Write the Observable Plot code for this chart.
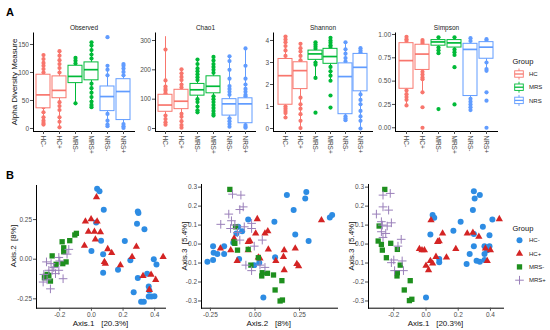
<!DOCTYPE html>
<html><head><meta charset="utf-8">
<script src="https://cdn.jsdelivr.net/npm/d3@7"></script>
<script src="https://cdn.jsdelivr.net/npm/@observablehq/plot@0.6"></script>
<style>
html,body{margin:0;padding:0;background:#fff;}
#root{position:relative;width:550px;height:330px;overflow:hidden;font-family:"Liberation Sans",Arial,Helvetica,sans-serif;background:#fff;}
#root svg{position:absolute;overflow:visible;}
</style></head><body><div id="root"></div>
<script>
// ---------- Panel A data ----------
const cats = ["HC-","HC+","MRS-","MRS+","NRS-","NRS+"];
const catGroup = ["HC","HC","MRS","MRS","NRS","NRS"];
const groups = ["HC","MRS","NRS"];
const groupColors = ["#F8766D","#00BA38","#619CFF"];
const facetNames = ["Observed","Chao1","Shannon","Simpson"];
const yAxisTitleA = "Alpha Diversity Measure";

// [lower whisker, q1, median, q3, upper whisker] per category
const observedBox = [[8,36,60,96,131],[2,54,68,93,138],[45,81,93,112,126],[38,86,105,118,154],[5,31,57,75,112],[1,15,66,88,115]];
const observedPts = [
  [131,124,117,112,106,100,50,38,29,20,14,10,7],
  [138,130,122,115,108,100,47,40,33,20,12,2],
  [126,121,116,45],
  [154,148,140,132,125,80,72,64,56,48,42,38],
  [163,112,105,95,26,14,7,4],
  [115,112,107,101,95,8,4,1]];
const chao1Box = [[13,57,80,115,313],[3,66,93,132,202],[55,112,132,152,235],[44,120,144,178,244],[6,44,84,100,246],[3,18,84,103,273]];
const chao1Pts = [
  [269,164,143,135,129,120,44,32,21,13],
  [202,188,176,165,150,140,50,40,25,12,3],
  [235,220,205,195,185,175,165,100,90,75,62,55],
  [244,232,220,210,200,190,110,100,90,80,70,60,50,44],
  [246,230,200,170,145,135,125,115,35,25,15,6],
  [273,214,170,150,135,125,115,110,12,6,3]];
const shannonBox = [[0.5,1.08,2.40,3.16,4.18],[0,1.79,2.63,3.01,3.85],[2.3,3.12,3.39,3.54,3.92],[2.17,2.94,3.27,3.62,4.12],[0.38,0.65,2.36,2.96,3.92],[0,1.69,2.78,3.39,3.65]];
const shannonPts = [
  [4.18,4.05,3.92,3.75,3.55,3.3,1.0,0.9,0.8,0.7,0.5],
  [3.85,3.65,3.5,3.3,3.1,1.4,1.1,0.9,0.65,0.35,0.02],
  [3.92,3.82,3.72,3.62,3.0,2.9,2.3,0.72],
  [4.12,4.0,3.9,3.78,3.7,2.8,2.6,2.4,2.17,1.5,0.95],
  [3.92,3.6,3.4,3.2,3.05,0.55,0.45,0.38],
  [3.65,3.55,3.45,1.55,1.3,1.1,0.8,0.55,0.35,0]];
const simpsonBox = [[0.24,0.418,0.72,0.907,0.975],[0.38,0.62,0.79,0.89,0.94],[0.79,0.88,0.92,0.94,0.97],[0.78,0.86,0.91,0.94,0.97],[0.19,0.34,0.84,0.90,0.96],[0.61,0.74,0.864,0.918,0.95]];
const simpsonPts = [
  [0.975,0.95,0.93,0.4,0.36,0.33,0.3,0.24],
  [0.94,0.92,0.9,0.6,0.57,0.54,0.52,0.38,0.22,0],
  [0.97,0.86,0.83,0.8,0.2],
  [0.97,0.84,0.81,0.78,0.65,0.25],
  [0.96,0.93,0.31,0.28,0.25,0.22,0.19],
  [0.95,0.93,0.70,0.63,0.61,0.38,0.29,0]];
const observedTicks = [0,50,100,150];
const chao1Ticks = [0,100,200,300];
const shannonTicks = [0,1,2,3,4];
const simpsonTicks = [0,0.25,0.5,0.75,1];

// ---------- Panel B data ----------
const sampleGroups = ["HC-","HC+","MRS-","MRS+"];
const sampleColors = ["#2D8CE3","#D42424","#1E8F1E","#9A80BA"];
const sampleSymbols = ["circle","triangle","square","plus"];
const axisTitlesB = [["Axis.1\u00a0\u00a0\u00a0[20.3%]","Axis.2\u00a0\u00a0[8%]"],["Axis.2\u00a0\u00a0\u00a0[8%]","Axis.3\u00a0\u00a0[5.4%]"],["Axis.1\u00a0\u00a0\u00a0[20.3%]","Axis.3\u00a0\u00a0[5.4%]"]];

// Axis.1 vs Axis.2
const hcMinus12 = [[0.036,0.444],[0.051,0.429],[0.078,0.312],[0.293,0.301],[0.297,0.291],[0.288,0.223],[0.335,0.189],[0.061,0.117],[0.211,0.115],[0,0.051],[0.074,0.032],[0.246,-0.006],[0.394,0],[0.411,-0.034],[0.074,-0.085],[0.168,-0.066],[0.293,-0.119],[0.352,-0.091],[0.362,-0.172],[0.366,-0.197],[0.267,-0.208],[0.314,-0.268],[0.331,-0.268],[0.362,-0.236],[0.379,-0.236],[0.398,-0.234],[0.03,0.232]];
const hcPlus12 = [[0.032,0.391],[-0.038,0.238],[-0.002,0.253],[0.036,0.238],[-0.019,0.174],[0.019,0.174],[0.057,0.17],[0.025,0.125],[-0.044,0.085],[0.103,0.064],[0.128,0.04],[0.082,-0.017],[0.088,-0.028],[0.183,-0.038],[0.284,0.079],[0.257,0.015],[0.453,0.015],[0.326,-0.106],[0.377,-0.098],[0.406,-0.13],[0.366,-0.193]];
const mrsMinus12 = [[-0.095,0.163],[-0.105,0.153],[-0.137,0.117],[-0.185,0.11],[-0.175,0.072],[-0.175,0.047],[-0.248,0.021],[-0.16,-0.017],[-0.181,-0.028],[-0.223,-0.032],[-0.269,-0.102],[-0.291,-0.108],[-0.297,-0.117],[-0.259,-0.138],[-0.28,-0.096]];
const mrsPlus12 = [[-0.143,0.062],[-0.154,0.032],[-0.206,0.011],[-0.2,-0.011],[-0.284,-0.017],[-0.238,-0.053],[-0.269,-0.07],[-0.248,-0.07],[-0.206,-0.07],[-0.301,-0.096],[-0.179,-0.123],[-0.28,-0.13],[-0.305,-0.144],[-0.259,-0.187],[-0.227,-0.091],[-0.255,-0.028]];
// Axis.2 vs Axis.3
const hcMinus23 = [[0.179,0.258],[0.288,0.275],[0.282,0.24],[0.217,0.179],[0.433,0.153],[0.42,0.14],[0.109,0.118],[-0.038,0.13],[-0.072,0.068],[0.226,0.051],[0.301,0.016],[-0.235,-0.011],[-0.173,-0.011],[-0.232,-0.046],[-0.211,-0.053],[-0.173,-0.053],[-0.267,-0.093],[-0.235,-0.084],[-0.089,-0.079],[-0.122,0.007],[0.113,-0.07],[0.024,-0.098],[-0.004,-0.111],[0.047,-0.281],[-0.094,0.091],[-0.104,0.056]];
const hcPlus23 = [[0.373,0.126],[0.013,0.132],[0.004,0.056],[0.072,0.068],[0.056,0.056],[-0.028,0.016],[-0.038,0.012],[-0.117,0.03],[-0.194,-0.023],[-0.136,-0.032],[0.075,-0.028],[-0.038,-0.032],[0.028,-0.075],[-0.1,-0.089],[0.164,-0.032],[0.16,-0.067],[0.164,-0.137],[0.226,-0.023],[0.235,-0.105],[0.245,-0.116],[0.117,-0.089],[0.019,-0.07]];
const mrsMinus23 = [[-0.141,0.288],[-0.109,0.091],[-0.117,0.012],[-0.113,0.004],[-0.098,-0.032],[-0.038,-0.028],[-0.023,-0.111],[0.019,-0.072],[0.041,-0.151],[0.038,-0.168],[0.07,-0.154],[0.104,-0.163],[0.151,-0.193],[0.113,-0.242],[0.141,-0.3],[0.154,-0.295]];
const mrsPlus23 = [[-0.126,0.263],[-0.079,0.258],[-0.066,0.196],[-0.085,0.182],[-0.147,0.158],[-0.192,0.104],[-0.132,0.123],[-0.113,0.1],[-0.137,0.082],[-0.098,0.061],[-0.06,0.091],[-0.085,0.021],[-0.019,0.109],[-0.019,0.082],[0.041,0.021],[-0.004,-0.011],[-0.051,-0.111],[-0.019,-0.14],[0.056,-0.123],[0.028,-0.111]];
// Axis.1 vs Axis.3
const hcMinus13 = [[0.297,0.279],[0.334,0.258],[0.302,0.24],[0.291,0.179],[0.041,0.153],[0.051,0.139],[0.412,0.13],[0.215,0.118],[0.17,0.07],[0.353,0.091],[0.027,0.051],[0.297,0.053],[0.394,0.046],[0.297,-0.011],[0.363,-0.011],[0.394,-0.011],[0.271,-0.053],[0.314,-0.088],[0.334,-0.093],[0.363,-0.084],[0.363,-0.053],[0.252,-0.105],[0.082,-0.079],[0.082,-0.096],[0,-0.281],[0.38,-0.032]];
const hcPlus13 = [[0.455,0.132],[0.031,0.126],[0.103,0.056],[0.082,0.016],[0.072,0.012],[0.291,0.06],[0.256,0.056],[0.328,0.039],[0.185,-0.026],[-0.041,-0.026],[-0.025,-0.032],[-0.01,-0.032],[0.127,-0.07],[0.062,-0.067],[0.027,-0.089],[0.041,-0.102],[0,-0.114],[0.016,-0.137],[0.369,-0.023],[0.4,-0.032],[0.38,-0.089]];
const mrsMinus13 = [[-0.256,0.288],[-0.291,0.095],[-0.219,0.004],[-0.297,0.016],[-0.271,-0.032],[-0.246,-0.072],[-0.178,-0.028],[-0.178,-0.151],[-0.18,-0.168],[-0.16,-0.111],[-0.098,-0.193],[-0.135,-0.242],[-0.103,-0.298],[-0.088,-0.291],[-0.277,-0.002]];
const mrsPlus13 = [[-0.267,0.258],[-0.222,0.267],[-0.267,0.196],[-0.232,0.179],[-0.308,0.158],[-0.277,0.118],[-0.271,0.1],[-0.215,0.112],[-0.241,0.095],[-0.277,0.065],[-0.25,0.056],[-0.267,0.035],[-0.154,0.025],[-0.174,-0.011],[-0.215,-0.098],[-0.2,-0.084],[-0.148,-0.089],[-0.195,-0.14],[-0.14,-0.14]];
const ticks1 = [-0.2,0,0.2,0.4];
const ticks2 = [-0.25,0,0.25];
const ticks3 = [-0.3,-0.2,-0.1,0,0.1,0.2,0.3];

// ---------- drawing ----------
const root = document.getElementById("root");
const FONT = "'Liberation Sans', Arial, Helvetica, sans-serif";
function place(el, left, top){ el.style.position="absolute"; el.style.left=left+"px"; el.style.top=top+"px"; root.appendChild(el); }
const baseStyle = {background:"transparent", fontFamily:FONT, fontSize:"6.5px", color:"#4d4d4d", overflow:"visible"};

function boxFacet(name, box, pts, yDomain, yTicks, fmt, fl, fr){
  const ml=30, mr=4, mt=32.5, fb=131, mb=34;
  const rows = cats.map((c,i)=>({cat:c, grp:catGroup[i], lo:box[i][0], q1:box[i][1], med:box[i][2], q3:box[i][3], hi:box[i][4]}));
  const dots = cats.flatMap((c,i)=>pts[i].map(v=>({cat:c, grp:catGroup[i], v})));
  const svg = Plot.plot({
    width: fr-fl+ml+mr, height: fb+mb, marginLeft: ml, marginRight: mr, marginTop: mt, marginBottom: mb,
    style: baseStyle,
    x: {type:"band", domain:cats, paddingInner:0.1, paddingOuter:0.15},
    y: {domain:yDomain},
    color: {domain:groups, range:groupColors},
    marks: [
      Plot.dot(dots, {x:"cat", y:"v", fill:"grp", r:2.1}),
      Plot.ruleX(rows, {x:"cat", y1:"lo", y2:"q1", stroke:"grp", strokeWidth:1}),
      Plot.ruleX(rows, {x:"cat", y1:"q3", y2:"hi", stroke:"grp", strokeWidth:1}),
      Plot.barY(rows, {x:"cat", y1:"q1", y2:"q3", fill:"white", stroke:"grp", strokeWidth:1}),
      Plot.tickY(rows, {x:"cat", y:"med", stroke:"grp", strokeWidth:1.7}),
      Plot.frame({anchor:"left", stroke:"#000", strokeWidth:1}),
      Plot.frame({anchor:"bottom", stroke:"#000", strokeWidth:1}),
      Plot.axisY({ticks:yTicks, tickFormat:fmt, tickSize:3, tickPadding:1.5, label:null, fontSize:6.5}),
      Plot.axisX({tickRotate:90, tickSize:3, tickPadding:1, label:null, fontSize:6.5}),
      Plot.text([name], {frameAnchor:"top", dy:-3, lineAnchor:"bottom", fill:"#1a1a1a", fontSize:6.5})
    ]
  });
  place(svg, fl-ml, 0);
}

boxFacet(facetNames[0], observedBox, observedPts, [-5.4,170.5], observedTicks, d=>String(d), 33, 134);
boxFacet(facetNames[1], chao1Box, chao1Pts, [-10.2,325.6], chao1Ticks, d=>String(d), 155, 255);
boxFacet(facetNames[2], shannonBox, shannonPts, [-0.136,4.34], shannonTicks, d=>String(d), 273, 372);
boxFacet(facetNames[3], simpsonBox, simpsonPts, [-0.04,1.016], simpsonTicks, d=>d.toFixed(2), 395, 497);

function scatter(series, fl, fr, ft, fb, xDomain, yDomain, xTicks, yTicks, xFmt, yFmt){
  const ml=30, mr=6, mt=4, mb=14;
  const marks = series.map((pts,i)=> sampleSymbols[i]==="plus"
    ? Plot.dot(pts, {x:d=>d[0], y:d=>d[1], symbol:"plus", stroke:sampleColors[i], fill:"none", strokeWidth:1, r:2.9})
    : Plot.dot(pts, {x:d=>d[0], y:d=>d[1], symbol:sampleSymbols[i], fill:sampleColors[i], r: sampleSymbols[i]==="triangle"?2.7:3}));
  const svg = Plot.plot({
    width: fr-fl+ml+mr, height: fb-ft+mt+mb, marginLeft: ml, marginRight: mr, marginTop: mt, marginBottom: mb,
    style: baseStyle,
    x: {domain:xDomain}, y: {domain:yDomain},
    marks: [
      ...marks,
      Plot.frame({anchor:"left", stroke:"#000", strokeWidth:1}),
      Plot.frame({anchor:"bottom", stroke:"#000", strokeWidth:1}),
      Plot.axisY({ticks:yTicks, tickFormat:yFmt, tickSize:3, tickPadding:1.5, label:null, fontSize:6.5}),
      Plot.axisX({ticks:xTicks, tickFormat:xFmt, tickSize:3, tickPadding:1.5, label:null, fontSize:6.5})
    ]
  });
  place(svg, fl-ml, ft-mt);
}
scatter([hcMinus12,hcPlus12,mrsMinus12,mrsPlus12], 36, 165, 185, 307.7, [-0.347,0.468], [-0.309,0.465], ticks1, ticks2, d=>d.toFixed(1), d=>d.toFixed(2));
scatter([hcMinus23,hcPlus23,mrsMinus23,mrsPlus23], 200.7, 336.7, 184, 307.7, [-0.30,0.463], [-0.338,0.314], ticks2, ticks3, d=>d.toFixed(2), d=>d.toFixed(1));
scatter([hcMinus13,hcPlus13,mrsMinus13,mrsPlus13], 368, 503, 184, 307.7, [-0.357,0.481], [-0.338,0.314], ticks1, ticks3, d=>d.toFixed(1), d=>d.toFixed(1));

// ---------- overlay text & legends ----------
const ov = d3.create("svg").attr("width",550).attr("height",330).style("left","0px").style("top","0px").style("font-family",FONT);
ov.append("text").attr("x",6).attr("y",15.5).attr("font-weight","bold").attr("font-size",11).attr("fill","#000").text("A");
ov.append("text").attr("x",6).attr("y",178.5).attr("font-weight","bold").attr("font-size",11).attr("fill","#000").text("B");
ov.append("text").attr("transform","translate(16.5,82) rotate(-90)").attr("text-anchor","middle").attr("font-size",8).attr("fill","#111").text(yAxisTitleA);

// B axis titles
const bx = [[100.5,16.2],[268.7,187.2],[435.5,353.5]];
axisTitlesB.forEach((t,i)=>{
  ov.append("text").attr("x",bx[i][0]).attr("y",325.5).attr("text-anchor","middle").attr("font-size",8).attr("fill","#111").text(t[0]);
  ov.append("text").attr("transform",`translate(${bx[i][1]},246) rotate(-90)`).attr("text-anchor","middle").attr("font-size",8).attr("fill","#111").text(t[1]);
});

// Legend A
ov.append("text").attr("x",512.5).attr("y",64).attr("font-size",7.5).attr("fill","#111").text("Group");
groups.forEach((g,i)=>{
  const cy = 74 + i*13.2, cx = 519;
  const gg = ov.append("g").attr("stroke",groupColors[i]).attr("stroke-width",0.9);
  gg.append("line").attr("x1",cx).attr("x2",cx).attr("y1",cy-5.5).attr("y2",cy+5.5);
  gg.append("rect").attr("x",cx-4.3).attr("y",cy-3.2).attr("width",8.6).attr("height",6.4).attr("fill","white");
  gg.append("line").attr("x1",cx-4.3).attr("x2",cx+4.3).attr("y1",cy).attr("y2",cy).attr("stroke-width",1.3);
  ov.append("text").attr("x",529).attr("y",cy).attr("dy","0.35em").attr("font-size",6).attr("fill","#222").text(g);
});

// Legend B
ov.append("text").attr("x",512.5).attr("y",230.5).attr("font-size",7.5).attr("fill","#111").text("Group");
const symMap = {circle:d3.symbolCircle, triangle:d3.symbolTriangle, square:d3.symbolSquare, plus:d3.symbolPlus};
sampleGroups.forEach((g,i)=>{
  const cy = 240.3 + i*13.3, cx = 519.5;
  const s = sampleSymbols[i];
  const r = s==="plus"?2.9:(s==="triangle"?2.7:3);
  const p = ov.append("path").attr("transform",`translate(${cx},${cy})`).attr("d", d3.symbol(symMap[s], Math.PI*r*r)());
  if (s==="plus") p.attr("fill","none").attr("stroke",sampleColors[i]).attr("stroke-width",1);
  else p.attr("fill",sampleColors[i]);
  ov.append("text").attr("x",529).attr("y",cy).attr("dy","0.35em").attr("font-size",6).attr("fill","#222").text(g);
});
place(ov.node(), 0, 0);
</script></body></html>
